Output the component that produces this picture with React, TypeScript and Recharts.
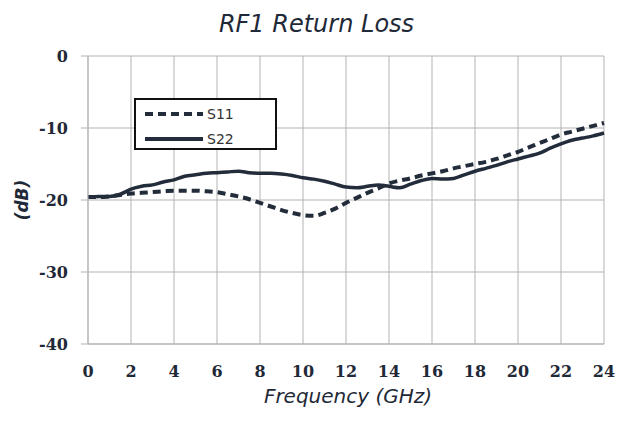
import React from "react";
import { LineChart, Line, XAxis, YAxis, CartesianGrid, Legend, Label } from "recharts";

const freq = [0, 0.5, 1, 1.5, 2, 2.5, 3, 3.5, 4, 4.5, 5, 5.5, 6, 6.5, 7, 7.5, 8, 8.5, 9, 9.5, 10, 10.5, 11, 11.5, 12, 12.5, 13, 13.5, 14, 14.5, 15, 15.5, 16, 16.5, 17, 17.5, 18, 18.5, 19, 19.5, 20, 20.5, 21, 21.5, 22, 22.5, 23, 23.5, 24];
const s11 = [-19.6, -19.6, -19.5, -19.3, -19.1, -19.0, -18.9, -18.8, -18.7, -18.7, -18.7, -18.8, -18.9, -19.2, -19.5, -19.9, -20.4, -20.9, -21.4, -21.8, -22.1, -22.2, -21.8, -21.2, -20.4, -19.7, -19.0, -18.4, -17.7, -17.3, -17.0, -16.6, -16.3, -16.0, -15.6, -15.3, -15.0, -14.7, -14.3, -13.8, -13.3, -12.7, -12.1, -11.5, -10.9, -10.5, -10.1, -9.7, -9.3];
const s22 = [-19.6, -19.5, -19.5, -19.2, -18.5, -18.1, -17.9, -17.5, -17.2, -16.7, -16.5, -16.3, -16.2, -16.1, -16.0, -16.2, -16.3, -16.3, -16.4, -16.6, -16.9, -17.1, -17.4, -17.8, -18.2, -18.3, -18.1, -17.9, -18.1, -18.3, -17.8, -17.3, -17.0, -17.1, -17.0, -16.5, -16.0, -15.6, -15.2, -14.7, -14.3, -13.9, -13.5, -12.8, -12.2, -11.7, -11.4, -11.1, -10.7];
const xTicks = [0, 2, 4, 6, 8, 10, 12, 14, 16, 18, 20, 22, 24];
const yTicks = [0, -10, -20, -30, -40];

const title = "RF1 Return Loss";
const xTitle = "Frequency (GHz)";
const yTitle = "(dB)";

const data = freq.map((f, i) => ({ f, S11: s11[i], S22: s22[i] }));

const INK = "#1f2937";
const LINE = "#232c3a";
const GRID = "#b3b3b3";

const LegendBox = (props: any) => {
  const payload = props.payload || [];
  return (
    <div
      style={{
        width: 143,
        height: 52,
        boxSizing: "border-box",
        border: "2px solid #111",
        background: "#fff",
        position: "relative",
      }}
    >
      {payload.map((p: any, i: number) => (
        <div key={p.value} style={{ position: "absolute", left: 7, top: i === 0 ? 4 : 29, height: 20, display: "flex", alignItems: "center" }}>
          <svg width={62} height={20}>
            <line
              x1={2}
              x2={60}
              y1={10}
              y2={10}
              stroke={LINE}
              strokeWidth={4}
              strokeDasharray={p.value === "S11" ? "8 5" : undefined}
            />
          </svg>
          <span style={{ fontFamily: "'DejaVu Sans', sans-serif", fontSize: 14, color: "#333", marginLeft: 2 }}>{p.value}</span>
        </div>
      ))}
    </div>
  );
};

export default function App() {
  return (
    <div style={{ position: "relative", width: 617, height: 422 }}>
      <style>{"html,body{margin:0;padding:0;overflow:hidden}"}</style>
      <div
        style={{
          position: "absolute",
          left: 0,
          top: 10,
          width: 625,
          textAlign: "center",
          fontFamily: "'DejaVu Sans', sans-serif",
          fontStyle: "italic",
          fontSize: 24,
          lineHeight: "normal",
          color: INK,
          zIndex: 2,
        }}
      >
        <span style={{ position: "relative", left: 4 }}>{title}</span>
      </div>
      <LineChart width={617} height={422} data={data} margin={{ top: 56, right: 13, left: 8, bottom: 48 }}>
        <CartesianGrid stroke={GRID} strokeWidth={1} horizontalValues={yTicks} verticalValues={xTicks} />
        <XAxis
          dataKey="f"
          type="number"
          domain={[0, 24]}
          ticks={xTicks}
          interval={0}
          height={30}
          axisLine={{ stroke: GRID }}
          tickLine={false}
          tickSize={0}
          tickMargin={22}
          tick={{ fontFamily: "'DejaVu Serif', serif", fontWeight: "bold", fontSize: 16, fill: INK }}
        >
          <Label
            content={(props: any) => {
              const vb = props.viewBox;
              return (
                <text
                  x={vb.x + vb.width / 2 + 2}
                  y={vb.y + 59}
                  textAnchor="middle"
                  fontFamily="'DejaVu Sans', sans-serif"
                  fontStyle="italic"
                  fontSize={20}
                  fill={INK}
                >
                  {xTitle}
                </text>
              );
            }}
          />
        </XAxis>
        <YAxis
          type="number"
          domain={[-40, 0]}
          ticks={yTicks}
          interval={0}
          width={80}
          axisLine={{ stroke: GRID }}
          tickLine={{ stroke: GRID }}
          tickSize={7}
          tickMargin={13}
          tick={{ fontFamily: "'DejaVu Serif', serif", fontWeight: "bold", fontSize: 16, fill: INK }}
        >
          <Label
            content={(props: any) => {
              const vb = props.viewBox;
              const cy = vb.y + vb.height / 2;
              return (
                <text
                  x={28}
                  y={cy}
                  transform={`rotate(-90, 28, ${cy})`}
                  textAnchor="middle"
                  fontFamily="'DejaVu Sans', sans-serif"
                  fontStyle="italic"
                  fontWeight="bold"
                  fontSize={17}
                  fill={INK}
                >
                  {yTitle}
                </text>
              );
            }}
          />
        </YAxis>
        <Legend
          layout="vertical"
          align="center"
          verticalAlign="middle"
          content={LegendBox}
          wrapperStyle={{ left: 134, top: 98, width: 143, height: 52 }}
        />
        <Line dataKey="S11" name="S11" type="monotone" stroke={LINE} strokeWidth={4} strokeDasharray="8 5" dot={false} isAnimationActive={false} />
        <Line dataKey="S22" name="S22" type="monotone" stroke={LINE} strokeWidth={3.5} dot={false} isAnimationActive={false} />
      </LineChart>
    </div>
  );
}
